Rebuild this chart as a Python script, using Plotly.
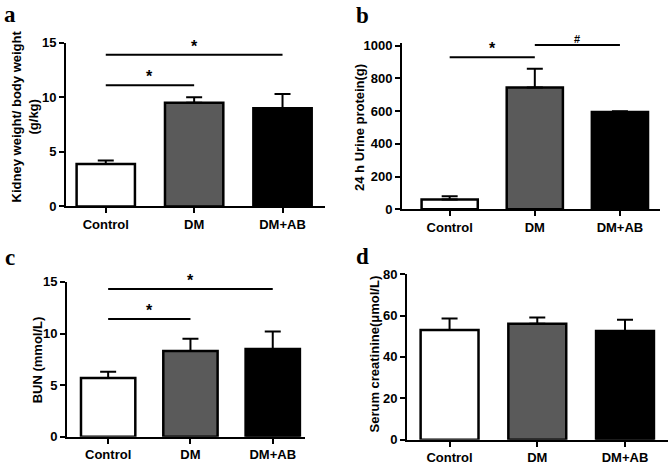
import plotly.graph_objects as go

groups = ["Control", "DM", "DM+AB"]
colors = ["#ffffff", "#5a5a5a", "#000000"]

kidney_mean = [3.9, 9.5, 9.0]
kidney_err = [0.3, 0.5, 1.3]

urine_mean = [60, 745, 595]
urine_err = [20, 115, 5]

bun_mean = [5.7, 8.3, 8.5]
bun_err = [0.6, 1.2, 1.7]

scr_mean = [53, 56, 52.5]
scr_err = [5.5, 3, 5.5]

panels = [
    dict(mean=kidney_mean, err=kidney_err, ax="", rng=[0, 15], dtick=5, tickvals=None,
         xr=[-0.45, 2.48], xd=[0.0985, 0.485], yd=[0.5598, 0.9209],
         title="Kidney weight/ body weight<br>(g/kg)", tx=25, ty=113, letter="a", lx=10, ly=8,
         sig=[(0, 1, 11.1, "*"), (0, 2, 13.9, "*")]),
    dict(mean=urine_mean, err=urine_err, ax="2", rng=[0, 1015], dtick=200,
         tickvals=[0, 200, 400, 600, 800, 1000],
         xr=[-0.56, 2.47], xd=[0.600, 0.985], yd=[0.5534, 0.9199],
         title="24 h Urine protein(g)", tx=360, ty=125, letter="b", lx=362, ly=9,
         sig=[(0, 1, 930, "*"), (1, 2, 1005, "#")]),
    dict(mean=bun_mean, err=bun_err, ax="3", rng=[0, 15], dtick=5, tickvals=None,
         xr=[-0.50, 2.39], xd=[0.100, 0.455], yd=[0.0513, 0.3932],
         title="BUN (mmol/L)", tx=37, ty=365, letter="c", lx=10, ly=259,
         sig=[(0, 1, 11.4, "*"), (0, 2, 14.3, "*")]),
    dict(mean=scr_mean, err=scr_err, ax="4", rng=[0, 80], dtick=20, tickvals=None,
         xr=[-0.485, 2.49], xd=[0.6075, 0.997], yd=[0.0449, 0.4103],
         title="Serum creatinine(μmol/L)", tx=375, ty=358, letter="d", lx=362, ly=258,
         sig=[]),
]

W, H = 670, 468
fig = go.Figure()
layout = dict(width=W, height=H, margin=dict(l=0, r=0, t=0, b=0),
              paper_bgcolor="white", plot_bgcolor="white", showlegend=False,
              shapes=[], annotations=[])
tick_font = dict(family="Liberation Sans, Arial", size=13, color="black", weight="bold")

for p in panels:
    a = p["ax"]
    fig.add_trace(go.Bar(
        x=groups, y=p["mean"], xaxis="x" + a, yaxis="y" + a, width=0.66,
        marker=dict(color=colors, line=dict(color="black", width=2.5)),
        error_y=dict(type="data", symmetric=False, array=p["err"],
                     arrayminus=[0] * 3, color="black", thickness=2, width=8),
    ))
    common = dict(showline=True, linecolor="black", linewidth=2, ticks="outside",
                  ticklen=5, tickwidth=2, tickcolor="black", showgrid=False,
                  zeroline=False, tickfont=tick_font)
    layout["xaxis" + a] = dict(common, domain=p["xd"], range=p["xr"],
                               anchor="y" + a, type="category")
    yax = dict(common, domain=p["yd"], range=p["rng"], anchor="x" + a)
    if p["tickvals"] is not None:
        yax["tickvals"] = p["tickvals"]
    else:
        yax["dtick"] = p["dtick"]
    layout["yaxis" + a] = yax
    xref, yref = "x" + a, "y" + a
    for (i0, i1, yv, sym) in p["sig"]:
        layout["shapes"].append(dict(type="line", xref=xref, yref=yref,
                                     x0=i0, x1=i1, y0=yv, y1=yv,
                                     line=dict(color="black", width=2)))
        layout["annotations"].append(dict(xref=xref, yref=yref, x=(i0 + i1) / 2, y=yv,
                                          text="<b>" + sym + "</b>", showarrow=False,
                                          yanchor="bottom", yshift=-2,
                                          font=dict(family="Liberation Sans, Arial",
                                                    size=16 if sym == "*" else 11, color="black")))
    layout["annotations"].append(dict(xref="paper", yref="paper", x=p["tx"] / W, y=1 - p["ty"] / H,
                                      text=p["title"], textangle=-90, showarrow=False,
                                      xanchor="center", yanchor="middle",
                                      font=dict(family="Liberation Sans, Arial", size=13,
                                                color="black", weight="bold")))
    layout["annotations"].append(dict(xref="paper", yref="paper", x=p["lx"] / W, y=1 - p["ly"] / H,
                                      text=p["letter"], showarrow=False,
                                      xanchor="center", yanchor="middle",
                                      font=dict(family="Liberation Serif, Times New Roman", size=23,
                                                color="black", weight="bold")))

fig.update_layout(**layout)
fig.write_html("out.html", config={"displayModeBar": False},
               post_script="document.body.style.margin='0';")
